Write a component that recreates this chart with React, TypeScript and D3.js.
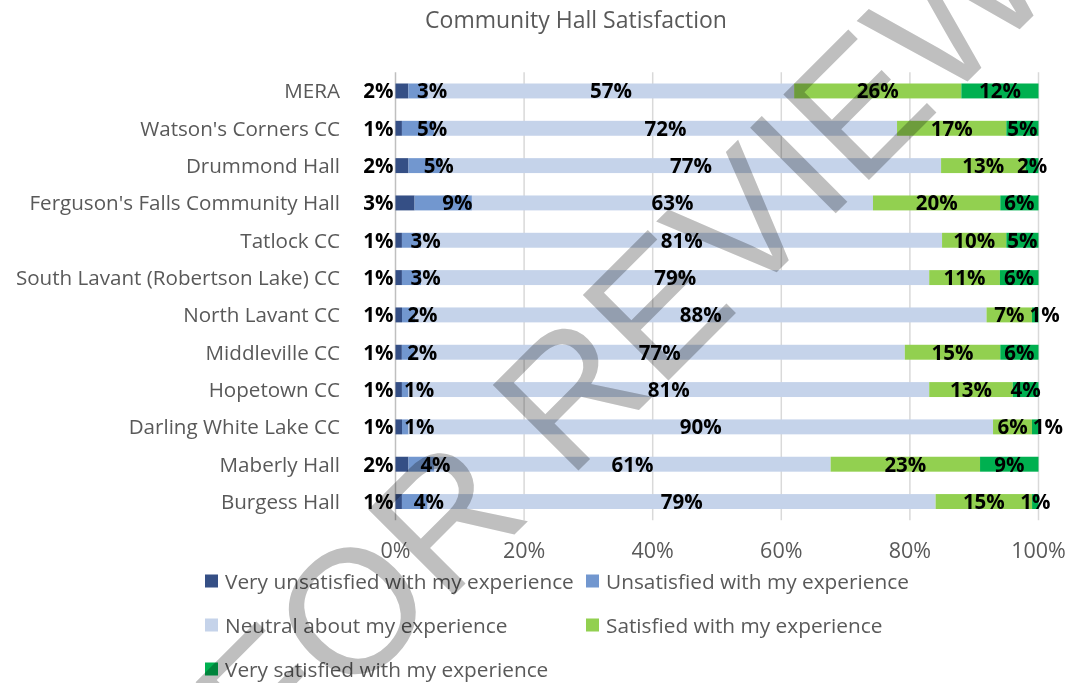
import * as d3 from 'd3';

const categories = [
  'MERA',
  "Watson's Corners CC",
  'Drummond Hall',
  "Ferguson's Falls Community Hall",
  'Tatlock CC',
  'South Lavant (Robertson Lake) CC',
  'North Lavant CC',
  'Middleville CC',
  'Hopetown CC',
  'Darling White Lake CC',
  'Maberly Hall',
  'Burgess Hall',
];

const seriesNames = [
  'Very unsatisfied with my experience',
  'Unsatisfied with my experience',
  'Neutral about my experience',
  'Satisfied with my experience',
  'Very satisfied with my experience',
];

const veryUnsatisfied = [2, 1, 2, 3, 1, 1, 1, 1, 1, 1, 2, 1];
const unsatisfied = [3, 5, 5, 9, 3, 3, 2, 2, 1, 1, 4, 4];
const neutral = [57, 72, 77, 63, 81, 79, 88, 77, 81, 90, 61, 79];
const satisfied = [26, 17, 13, 20, 10, 11, 7, 15, 13, 6, 23, 15];
const verySatisfied = [12, 5, 2, 6, 5, 6, 1, 6, 4, 1, 9, 1];

const ticks = [0, 0.2, 0.4, 0.6, 0.8, 1];

const colors = ['#354f85', '#7297cf', '#c5d3ea', '#92d050', '#00b050'];

const W = 1076;
const H = 683;
const FONT = '"Open Sans", Lato, sans-serif';
const GREY = '#595959';
const LABEL_SIZE = 20.5;

// rough width of a bold percent label
const labelWidth = (v: number) => (String(v).length * 0.572 + 0.86) * LABEL_SIZE;

export default function App() {
  const rows = categories.map((c, i) => ({
    c,
    s0: veryUnsatisfied[i],
    s1: unsatisfied[i],
    s2: neutral[i],
    s3: satisfied[i],
    s4: verySatisfied[i],
  }));
  const keys = ['s0', 's1', 's2', 's3', 's4'];
  const stacked = d3.stack<any>().keys(keys).offset(d3.stackOffsetExpand)(rows);

  const x = d3.scaleLinear().domain([0, 1]).range([395.5, 1038.5]);
  const y = d3
    .scaleBand()
    .domain(categories)
    .range([72.3, 520.2])
    .paddingInner(0.6)
    .paddingOuter(0.3);
  const bw = y.bandwidth();

  const labelX = (si: number, d: any, i: number) => {
    const mid = (x(d[0]) + x(d[1])) / 2;
    if (si === 0) return x(0) - 2;
    if (si === 1) return mid + 14;
    if (si === 4) {
      const p = stacked[3][i];
      const pr = (x(p[0]) + x(p[1])) / 2 + labelWidth(satisfied[i]) / 2;
      const w = labelWidth(verySatisfied[i]);
      return Math.max(mid, pr + 6 + w / 2);
    }
    return mid;
  };

  const legendPos = [
    [205, 581],
    [586, 581],
    [205, 625],
    [586, 625],
    [205, 669],
  ];

  return (
    <div style={{ position: 'absolute', left: 0, top: 0 }}>
      <svg width={W} height={H} style={{ display: 'block', background: '#fff' }}>
        <text x={576} y={28} textAnchor="middle" fontFamily={FONT} fontSize={23} fill={GREY}>
          Community Hall Satisfaction
        </text>

        {ticks.map((t) => (
          <line
            key={t}
            x1={x(t)}
            x2={x(t)}
            y1={72.3}
            y2={520.2}
            stroke={t === 0 ? '#bfbfbf' : '#d9d9d9'}
            strokeWidth={1.5}
          />
        ))}

        {stacked.map((s, si) => (
          <g key={s.key} fill={colors[si]}>
            {s.map((d: any) => (
              <rect
                key={d.data.c}
                x={x(d[0])}
                y={y(d.data.c)}
                width={x(d[1]) - x(d[0])}
                height={bw}
              />
            ))}
          </g>
        ))}

        {stacked.map((s, si) => (
          <g key={s.key + 'l'} fontFamily={FONT} fontSize={LABEL_SIZE} fontWeight="bold" fill="#000">
            {s.map((d: any, i: number) => (
              <text
                key={d.data.c}
                x={labelX(si, d, i)}
                y={(y(d.data.c) as number) + bw / 2}
                dy="0.36em"
                textAnchor={si === 0 ? 'end' : 'middle'}
              >
                {d.data[s.key]}%
              </text>
            ))}
          </g>
        ))}

        <g fontFamily={FONT} fontSize={20.6} fill={GREY}>
          {categories.map((c) => (
            <text key={c} x={340} y={(y(c) as number) + bw / 2} dy="0.36em" textAnchor="end">
              {c}
            </text>
          ))}
        </g>
        <g fontFamily={FONT} fontSize={21.5} fill={GREY}>
          {ticks.map((t) => (
            <text key={t} x={x(t)} y={558} textAnchor="middle">
              {d3.format('.0%')(t)}
            </text>
          ))}
        </g>

        <g fontFamily={FONT} fontSize={20.8} fill={GREY}>
          {seriesNames.map((n, i) => (
            <g key={n} transform={`translate(${legendPos[i][0]},${legendPos[i][1]})`}>
              <rect x={0} y={-6.5} width={13} height={13} fill={colors[i]} />
              <text x={20} y={0} dy="0.36em">
                {n}
              </text>
            </g>
          ))}
        </g>

        <text
          transform="translate(271,778) rotate(-45)"
          fontFamily='"Liberation Sans", Arial, sans-serif'
          fontSize={176}
          fill="#bfbfbf"
          style={{ mixBlendMode: 'multiply' }}
        >
          FOR REVIEW
        </text>
      </svg>
    </div>
  );
}
